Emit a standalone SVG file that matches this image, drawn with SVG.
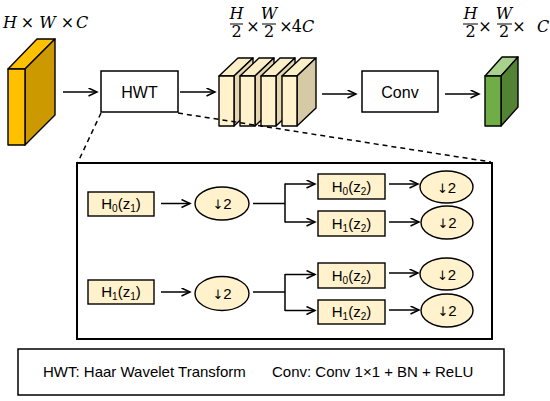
<svg xmlns="http://www.w3.org/2000/svg" width="550" height="401" viewBox="0 0 550 401">
<defs>
<marker id="arr" markerUnits="userSpaceOnUse" markerWidth="12" markerHeight="12" refX="9" refY="4.5" orient="auto">
<path d="M0.5,0.5 L9,4.5 L0.5,8.5" fill="none" stroke="#000" stroke-width="1.5"/>
</marker>
</defs>
<style>
.bx{fill:#fff;stroke:#000;stroke-width:1.5}
.fb{fill:#FFF2CC;stroke:#000;stroke-width:1.4}
.el{fill:#FFF2CC;stroke:#000;stroke-width:1.4}
.ln{fill:none;stroke:#000;stroke-width:1.5}
.ar{fill:none;stroke:#000;stroke-width:1.5;marker-end:url(#arr)}
.ds{fill:none;stroke:#000;stroke-width:1.5;stroke-dasharray:5,4}
.t{font-family:"Liberation Sans",Arial,sans-serif;fill:#000}
.dn{font-family:"DejaVu Sans",sans-serif;font-size:13px}
.m{font-family:"DejaVu Serif",serif;font-style:italic;font-size:16px;fill:#000}
.mu{font-family:"DejaVu Serif",serif;font-size:16px;fill:#000}
.blk{stroke:#000;stroke-width:1.4;stroke-linejoin:round}
</style>
<rect width="550" height="401" fill="#fff"/>

<g id="label-input">
<text class="m" x="10" y="28" text-anchor="middle">H</text>
<text class="mu" x="27.5" y="28" text-anchor="middle">×</text>
<text class="m" x="47.5" y="28" text-anchor="middle">W</text>
<text class="mu" x="67.5" y="28" text-anchor="middle">×</text>
<text class="m" x="82" y="28" text-anchor="middle">C</text>
</g>

<g id="input-block">
<polygon class="blk" fill="#FFC000" points="8,69 37,39 55,39 25,69"/>
<polygon class="blk" fill="#CC9900" points="25,69 55,39 55,115 25,145"/>
<rect class="blk" fill="#FFC000" x="8" y="69" width="17" height="76"/>
</g>

<g id="hwt">
<rect class="bx" x="101" y="71" width="77" height="41"/>
<text class="t" x="139.5" y="98" font-size="16" text-anchor="middle">HWT</text>
</g>

<g id="label-mid">
<text class="m" x="236.5" y="19" text-anchor="middle">H</text>
<line x1="230" y1="24" x2="243" y2="24" stroke="#000" stroke-width="1"/>
<text class="mu" x="236.5" y="37" text-anchor="middle">2</text>
<text class="mu" x="253" y="32" text-anchor="middle">×</text>
<text class="m" x="269" y="19" text-anchor="middle">W</text>
<line x1="262" y1="24" x2="276" y2="24" stroke="#000" stroke-width="1"/>
<text class="mu" x="269" y="37" text-anchor="middle">2</text>
<text class="mu" x="286" y="32" text-anchor="middle">×</text>
<text class="mu" x="303" y="32" text-anchor="middle">4<tspan font-style="italic">C</tspan></text>
</g>

<g id="slabs">
<polygon class="blk" fill="#FBEFC8" points="219,76 238,58 253,58 234,76"/>
<polygon class="blk" fill="#E3D6B0" points="234,76 253,58 253,108 234,126"/>
<rect class="blk" fill="#FFF2CC" x="219" y="76" width="15" height="50"/>
<polygon class="blk" fill="#FBEFC8" points="240,76 259,58 274,58 255,76"/>
<polygon class="blk" fill="#E3D6B0" points="255,76 274,58 274,108 255,126"/>
<rect class="blk" fill="#FFF2CC" x="240" y="76" width="15" height="50"/>
<polygon class="blk" fill="#FBEFC8" points="261,76 280,58 295,58 276,76"/>
<polygon class="blk" fill="#E3D6B0" points="276,76 295,58 295,108 276,126"/>
<rect class="blk" fill="#FFF2CC" x="261" y="76" width="15" height="50"/>
<polygon class="blk" fill="#FBEFC8" points="282,76 301,58 316,58 297,76"/>
<polygon class="blk" fill="#D6C9A5" points="297,76 316,58 316,108 297,126"/>
<rect class="blk" fill="#FFF2CC" x="282" y="76" width="15" height="50"/>
</g>

<g id="conv">
<rect class="bx" x="362" y="71" width="76" height="41"/>
<text class="t" x="400" y="98" font-size="16" text-anchor="middle">Conv</text>
</g>

<g id="label-out">
<text class="m" x="470.5" y="19" text-anchor="middle">H</text>
<line x1="463" y1="24" x2="478" y2="24" stroke="#000" stroke-width="1"/>
<text class="mu" x="470.5" y="37" text-anchor="middle">2</text>
<text class="mu" x="485" y="32" text-anchor="middle">×</text>
<text class="m" x="504" y="19" text-anchor="middle">W</text>
<line x1="497" y1="24" x2="512" y2="24" stroke="#000" stroke-width="1"/>
<text class="mu" x="504" y="37" text-anchor="middle">2</text>
<text class="mu" x="519" y="32" text-anchor="middle">×</text>
<text class="m" x="543" y="32" text-anchor="middle">C</text>
</g>

<g id="output-block">
<polygon class="blk" fill="#A9D18E" points="485,76 502,57 518,57 501,76"/>
<polygon class="blk" fill="#548235" points="501,76 518,57 518,107 501,126"/>
<rect class="blk" fill="#70AD47" x="485" y="76" width="16" height="50"/>
</g>

<g id="detail-frame">
<rect x="77" y="163" width="415" height="176" fill="none" stroke="#000" stroke-width="2"/>
</g>

<g id="h0z1">
<rect class="fb" x="88" y="192" width="66" height="24"/>
<text class="t" x="121" y="209" font-size="15" text-anchor="middle">H<tspan font-size="10" dy="3">0</tspan><tspan dy="-3">(z</tspan><tspan font-size="10" dy="3">1</tspan><tspan dy="-3">)</tspan></text>
</g>
<g id="ds1">
<ellipse class="el" cx="222" cy="203.5" rx="27" ry="16.5"/>
<text class="t" x="222" y="209" font-size="15" text-anchor="middle"><tspan class="dn">↓</tspan>2</text>
</g>
<g id="h0z2a">
<rect class="fb" x="318" y="174" width="67" height="25"/>
<text class="t" x="351.5" y="192" font-size="15" text-anchor="middle">H<tspan font-size="10" dy="3">0</tspan><tspan dy="-3">(z</tspan><tspan font-size="10" dy="3">2</tspan><tspan dy="-3">)</tspan></text>
</g>
<g id="h1z2a">
<rect class="fb" x="318" y="211" width="67" height="25"/>
<text class="t" x="351.5" y="229" font-size="15" text-anchor="middle">H<tspan font-size="10" dy="3">1</tspan><tspan dy="-3">(z</tspan><tspan font-size="10" dy="3">2</tspan><tspan dy="-3">)</tspan></text>
</g>
<g id="ds2">
<ellipse class="el" cx="446.5" cy="187" rx="26.5" ry="16"/>
<text class="t" x="446.5" y="192.5" font-size="15" text-anchor="middle"><tspan class="dn">↓</tspan>2</text>
</g>
<g id="ds3">
<ellipse class="el" cx="447" cy="222.5" rx="26" ry="16.5"/>
<text class="t" x="447" y="228" font-size="15" text-anchor="middle"><tspan class="dn">↓</tspan>2</text>
</g>

<g id="h1z1">
<rect class="fb" x="88" y="280" width="66" height="24"/>
<text class="t" x="121" y="297" font-size="15" text-anchor="middle">H<tspan font-size="10" dy="3">1</tspan><tspan dy="-3">(z</tspan><tspan font-size="10" dy="3">1</tspan><tspan dy="-3">)</tspan></text>
</g>
<g id="ds4">
<ellipse class="el" cx="222" cy="293.5" rx="27" ry="17"/>
<text class="t" x="222" y="299" font-size="15" text-anchor="middle"><tspan class="dn">↓</tspan>2</text>
</g>
<g id="h0z2b">
<rect class="fb" x="318" y="263" width="67" height="25"/>
<text class="t" x="351.5" y="281" font-size="15" text-anchor="middle">H<tspan font-size="10" dy="3">0</tspan><tspan dy="-3">(z</tspan><tspan font-size="10" dy="3">2</tspan><tspan dy="-3">)</tspan></text>
</g>
<g id="h1z2b">
<rect class="fb" x="318" y="300" width="67" height="24"/>
<text class="t" x="351.5" y="317" font-size="15" text-anchor="middle">H<tspan font-size="10" dy="3">1</tspan><tspan dy="-3">(z</tspan><tspan font-size="10" dy="3">2</tspan><tspan dy="-3">)</tspan></text>
</g>
<g id="ds5">
<ellipse class="el" cx="446.5" cy="274" rx="26.5" ry="16"/>
<text class="t" x="446.5" y="279.5" font-size="15" text-anchor="middle"><tspan class="dn">↓</tspan>2</text>
</g>
<g id="ds6">
<ellipse class="el" cx="447" cy="310.5" rx="26" ry="16.5"/>
<text class="t" x="447" y="316" font-size="15" text-anchor="middle"><tspan class="dn">↓</tspan>2</text>
</g>

<g id="legend">
<rect x="18" y="349" width="486" height="46" fill="#fff" stroke="#000" stroke-width="1.5"/>
<text class="t" x="43" y="377" font-size="15">HWT: Haar Wavelet Transform</text>
<text class="t" x="272" y="377" font-size="15">Conv: Conv 1×1 + BN + ReLU</text>
</g>

<g id="connectors">
<line class="ar" x1="63" y1="92" x2="97" y2="92"/>
<line class="ar" x1="180" y1="92" x2="215" y2="92"/>
<line class="ar" x1="322" y1="94" x2="356" y2="94"/>
<line class="ar" x1="445" y1="94" x2="479" y2="94"/>
<line class="ds" x1="101" y1="113" x2="78" y2="162"/>
<line class="ds" x1="178" y1="113" x2="491" y2="162"/>
<line class="ar" x1="161" y1="203.5" x2="190" y2="203.5"/>
<polyline class="ln" points="253,203.5 285,203.5"/>
<line class="ln" x1="285" y1="183.5" x2="285" y2="222.5"/>
<line class="ar" x1="285" y1="184" x2="315" y2="184"/>
<line class="ar" x1="285" y1="222" x2="315" y2="222"/>
<line class="ar" x1="389" y1="184" x2="418" y2="184"/>
<line class="ar" x1="389" y1="222" x2="419" y2="222"/>
<line class="ar" x1="161" y1="292" x2="190" y2="292"/>
<polyline class="ln" points="253,292 285,292"/>
<line class="ln" x1="285" y1="274" x2="285" y2="311"/>
<line class="ar" x1="285" y1="274.5" x2="315" y2="274.5"/>
<line class="ar" x1="285" y1="310.5" x2="315" y2="310.5"/>
<line class="ar" x1="389" y1="273" x2="418" y2="273"/>
<line class="ar" x1="389" y1="310" x2="419" y2="310"/>
</g>
</svg>
